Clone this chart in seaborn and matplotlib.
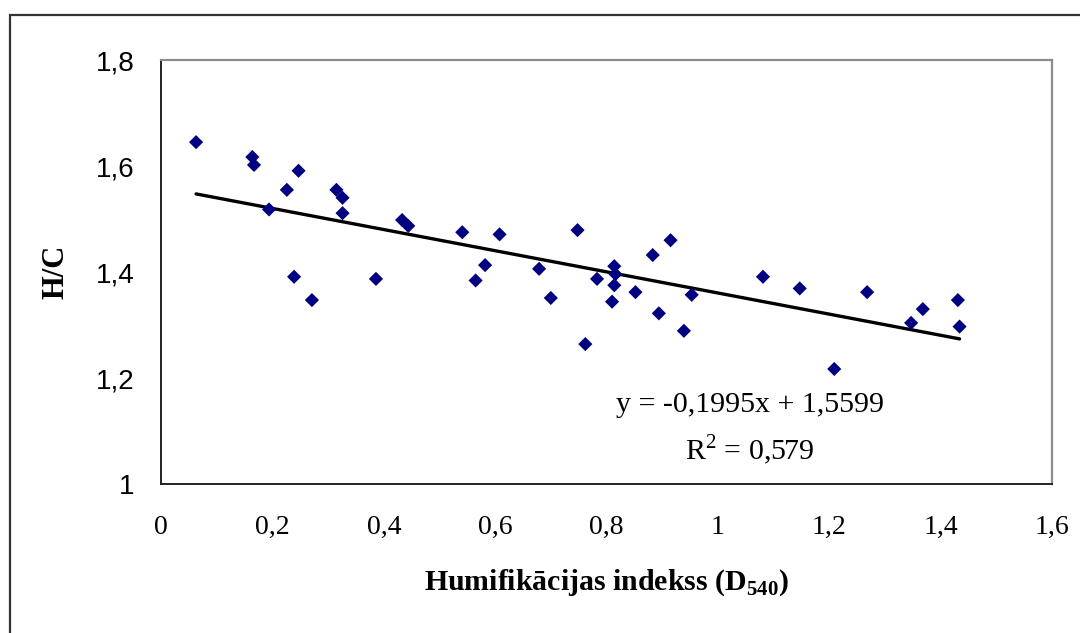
import numpy as np
import pandas as pd
import matplotlib
matplotlib.use("Agg")
import matplotlib.pyplot as plt
import seaborn as sns
from matplotlib.patches import Rectangle

# --- data ---
humification = [0.063, 0.164, 0.167, 0.247, 0.226, 0.194, 0.315, 0.326, 0.326,
                 0.433, 0.444, 0.541, 0.608, 0.239, 0.271, 0.386, 0.582, 0.565,
                 0.748, 0.679, 0.700, 0.762, 0.814, 0.816, 0.814, 0.783, 0.810,
                 0.852, 0.883, 0.915, 0.894, 0.939, 0.953, 1.081, 1.147, 1.268,
                 1.209, 1.347, 1.368, 1.431, 1.434]
hc_ratio = [1.645, 1.617, 1.602, 1.591, 1.555, 1.518, 1.555, 1.540, 1.511,
            1.498, 1.487, 1.475, 1.471, 1.391, 1.347, 1.387, 1.413, 1.384,
            1.479, 1.406, 1.351, 1.264, 1.411, 1.396, 1.375, 1.387, 1.344,
            1.362, 1.432, 1.460, 1.322, 1.289, 1.357, 1.391, 1.369, 1.362,
            1.217, 1.304, 1.330, 1.347, 1.297]
trend_slope = -0.1995
trend_intercept = 1.5599
x_ticks = [0, 0.2, 0.4, 0.6, 0.8, 1.0, 1.2, 1.4, 1.6]
x_tick_labels = ["0", "0,2", "0,4", "0,6", "0,8", "1", "1,2", "1,4", "1,6"]
y_ticks = [1.0, 1.2, 1.4, 1.6, 1.8]
y_tick_labels = ["1", "1,2", "1,4", "1,6", "1,8"]
eq_text = "y = -0,1995x + 1,5599"
r2_text = "R$^2$ = 0,579"

sns.set_theme(style="white")
plt.rcParams['font.family'] = ['Liberation Serif', 'DejaVu Serif']
plt.rcParams['mathtext.fontset'] = 'custom'
plt.rcParams['mathtext.rm'] = 'Liberation Serif'
plt.rcParams['mathtext.bf'] = 'Liberation Serif:bold'
plt.rcParams['text.color'] = 'black'
plt.rcParams['axes.labelcolor'] = 'black'
plt.rcParams['xtick.color'] = 'black'
plt.rcParams['ytick.color'] = 'black'

df = pd.DataFrame({"x": humification, "y": hc_ratio})
xs = np.array([min(humification), max(humification)])
trend = pd.DataFrame({"x": xs, "y": trend_slope * xs + trend_intercept})

W, H = 1080, 633
fig = plt.figure(figsize=(10.8, 6.33), dpi=100)
ax = fig.add_axes([161/W, 1 - 484/H, (1052-161)/W, (484-60)/H])

# outer chart border (top & left visible)
fig.patches.append(Rectangle((10/W, -0.2), 1.2, 1 - 15/H + 0.2,
                             transform=fig.transFigure, fill=False,
                             edgecolor="#333333", linewidth=1.6, zorder=0))

sns.lineplot(data=trend, x="x", y="y", ax=ax, color="black", linewidth=2.4, zorder=2)
sns.scatterplot(data=df, x="x", y="y", ax=ax, marker="D", s=52, color="#000080",
                edgecolor="none", linewidth=0, zorder=3)

ax.set_xlim(0, 1.6)
ax.set_ylim(1.0, 1.8)
ax.set_xticks(x_ticks)
ax.set_xticklabels(x_tick_labels, fontsize=20, family=['Liberation Serif'])
ax.set_yticks(y_ticks)
ax.set_yticklabels(y_tick_labels, fontsize=20, family=['Liberation Sans'])
ax.tick_params(axis="x", direction="in", length=7, width=1, color="#333333", pad=22)
ax.tick_params(axis="y", direction="in", length=7, width=1, color="#333333", pad=19)

for s in ["left", "bottom"]:
    ax.spines[s].set_color("#222222")
    ax.spines[s].set_linewidth(1.4)
for s in ["top", "right"]:
    ax.spines[s].set_color("#8c8c8c")
    ax.spines[s].set_linewidth(1.6)
    ax.spines[s].set_visible(True)

ax.set_xlabel("Humifikācijas indekss (D$_{\\mathbf{540}}$)", fontsize=21.5,
              fontweight="bold", labelpad=20)
ax.set_ylabel("H/C", fontsize=22, fontweight="bold", labelpad=18)

def to_axes(px, py):
    return ((px - 161) / (1052 - 161), (484 - py) / (484 - 60))

ax.text(*to_axes(750, 405), eq_text, transform=ax.transAxes, fontsize=21.5,
        ha="center", va="center")
ax.text(*to_axes(750, 450), r2_text, transform=ax.transAxes, fontsize=21.5,
        ha="center", va="center")

fig.savefig("out.png", dpi=100)
